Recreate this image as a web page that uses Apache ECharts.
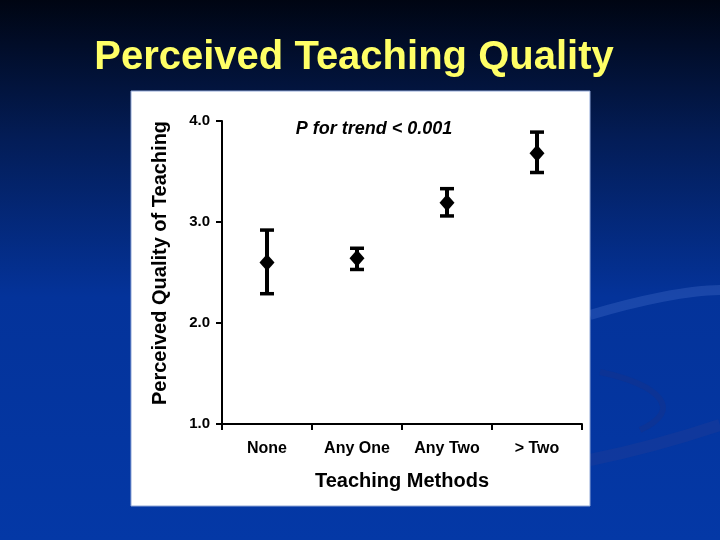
<!DOCTYPE html>
<html>
<head>
<meta charset="utf-8">
<script src="https://cdn.jsdelivr.net/npm/echarts@6/dist/echarts.min.js"></script>
<style>
html, body { margin: 0; padding: 0; }
#main { width: 720px; height: 540px; }
</style>
</head>
<body>
<div id="main"></div>
<script>
// values
var categories = ['None', 'Any One', 'Any Two', '> Two'];
var means = [2.60, 2.64, 3.19, 3.68];
var lower = [2.29, 2.53, 3.06, 3.49];
var upper = [2.92, 2.74, 3.33, 3.89];
var yTicks = [1.0, 2.0, 3.0, 4.0];

var myChart = echarts.init(document.getElementById('main'));

var bars = [];
for (var i = 0; i < categories.length; i++) {
    bars.push([i, lower[i], upper[i]]);
}

function errorBar(params, api) {
    var lo = api.coord([api.value(0), api.value(1)]);
    var hi = api.coord([api.value(0), api.value(2)]);
    var half = 7;
    var cap = { stroke: '#000', lineWidth: 3.5 };
    return {
        type: 'group',
        children: [
            { type: 'line', shape: { x1: hi[0], y1: hi[1], x2: lo[0], y2: lo[1] }, style: { stroke: '#000', lineWidth: 4 } },
            { type: 'line', shape: { x1: hi[0] - half, y1: hi[1], x2: hi[0] + half, y2: hi[1] }, style: cap },
            { type: 'line', shape: { x1: lo[0] - half, y1: lo[1], x2: lo[0] + half, y2: lo[1] }, style: cap }
        ]
    };
}

var boldFont = '"Liberation Sans", Arial, sans-serif';

var option = {
    animation: false,
    graphic: [
        // slide background
        {
            type: 'rect', z: -100, silent: true,
            shape: { x: 0, y: 0, width: 720, height: 540 },
            style: {
                fill: new echarts.graphic.LinearGradient(0, 0, 0, 1, [
                    { offset: 0, color: '#000512' },
                    { offset: 0.25, color: '#031c55' },
                    { offset: 0.55, color: '#04339a' },
                    { offset: 1, color: '#0438a6' }
                ])
            }
        },
        // faint swooshes on the right
        {
            type: 'bezierCurve', z: -90, silent: true,
            shape: { x1: 590, y1: 315, x2: 720, y2: 290, cpx1: 640, cpy1: 300, cpx2: 690, cpy2: 290 },
            style: { stroke: 'rgba(90,130,220,0.25)', lineWidth: 10, fill: null }
        },
        {
            type: 'bezierCurve', z: -90, silent: true,
            shape: { x1: 590, y1: 460, x2: 720, y2: 425, cpx1: 640, cpy1: 450, cpx2: 690, cpy2: 435 },
            style: { stroke: 'rgba(30,60,150,0.45)', lineWidth: 12, fill: null }
        },
        {
            type: 'bezierCurve', z: -90, silent: true,
            shape: { x1: 600, y1: 372, x2: 640, y2: 430, cpx1: 660, cpy1: 385, cpx2: 685, cpy2: 410 },
            style: { stroke: 'rgba(20,50,140,0.5)', lineWidth: 6, fill: null }
        },
        // title
        {
            type: 'text', z: -80, silent: true,
            x: 354, y: 58,
            style: {
                text: 'Perceived Teaching Quality',
                fill: '#ffff66',
                font: 'bold 40px ' + boldFont,
                textAlign: 'center',
                textVerticalAlign: 'middle'
            }
        },
        // white chart panel
        {
            type: 'rect', z: -50, silent: true,
            shape: { x: 131, y: 91, width: 459, height: 415 },
            style: { fill: '#ffffff', stroke: '#8fa6d6', lineWidth: 1 }
        },
        // y axis title
        {
            type: 'text', z: 10, silent: true,
            x: 160, y: 263, rotation: Math.PI / 2,
            style: {
                text: 'Perceived Quality of Teaching',
                fill: '#000',
                font: 'bold 20px ' + boldFont,
                textAlign: 'center',
                textVerticalAlign: 'middle'
            }
        },
        {
            type: 'text', z: 10, silent: true,
            x: 374, y: 129,
            style: {
                text: 'P for trend < 0.001',
                fill: '#000',
                font: 'italic bold 18px ' + boldFont,
                textAlign: 'center',
                textVerticalAlign: 'middle'
            }
        }
    ],
    grid: { left: 222, right: 138, top: 121, bottom: 116 },
    xAxis: {
        type: 'category',
        data: categories,
        boundaryGap: true,
        name: 'Teaching Methods',
        nameLocation: 'middle',
        nameGap: 47,
        nameTextStyle: { fontFamily: 'Liberation Sans', fontWeight: 'bold', fontSize: 20, color: '#000' },
        axisLine: { lineStyle: { color: '#000', width: 2 } },
        axisTick: { show: true, length: 6, lineStyle: { color: '#000', width: 2 } },
        axisLabel: { fontFamily: 'Liberation Sans', fontWeight: 'bold', fontSize: 16, color: '#000', margin: 17 },
        splitLine: { show: false }
    },
    yAxis: {
        type: 'value',
        min: 1, max: 4, interval: 1,
        axisLine: { show: true, lineStyle: { color: '#000', width: 2 } },
        axisTick: { show: true, length: 6, lineStyle: { color: '#000', width: 2 } },
        axisLabel: {
            fontFamily: 'Liberation Sans', fontWeight: 'bold', fontSize: 15, color: '#000', margin: 12,
            formatter: function (v) { return yTicks.indexOf(v) >= 0 ? v.toFixed(1) : ''; }
        },
        splitLine: { show: false }
    },
    series: [
        {
            type: 'custom',
            renderItem: errorBar,
            data: bars,
            z: 3
        },
        {
            type: 'scatter',
            data: means,
            symbol: 'diamond',
            symbolSize: [15, 17],
            itemStyle: { color: '#000', opacity: 1 },
            z: 4
        }
    ]
};

myChart.setOption(option);
</script>
</body>
</html>
